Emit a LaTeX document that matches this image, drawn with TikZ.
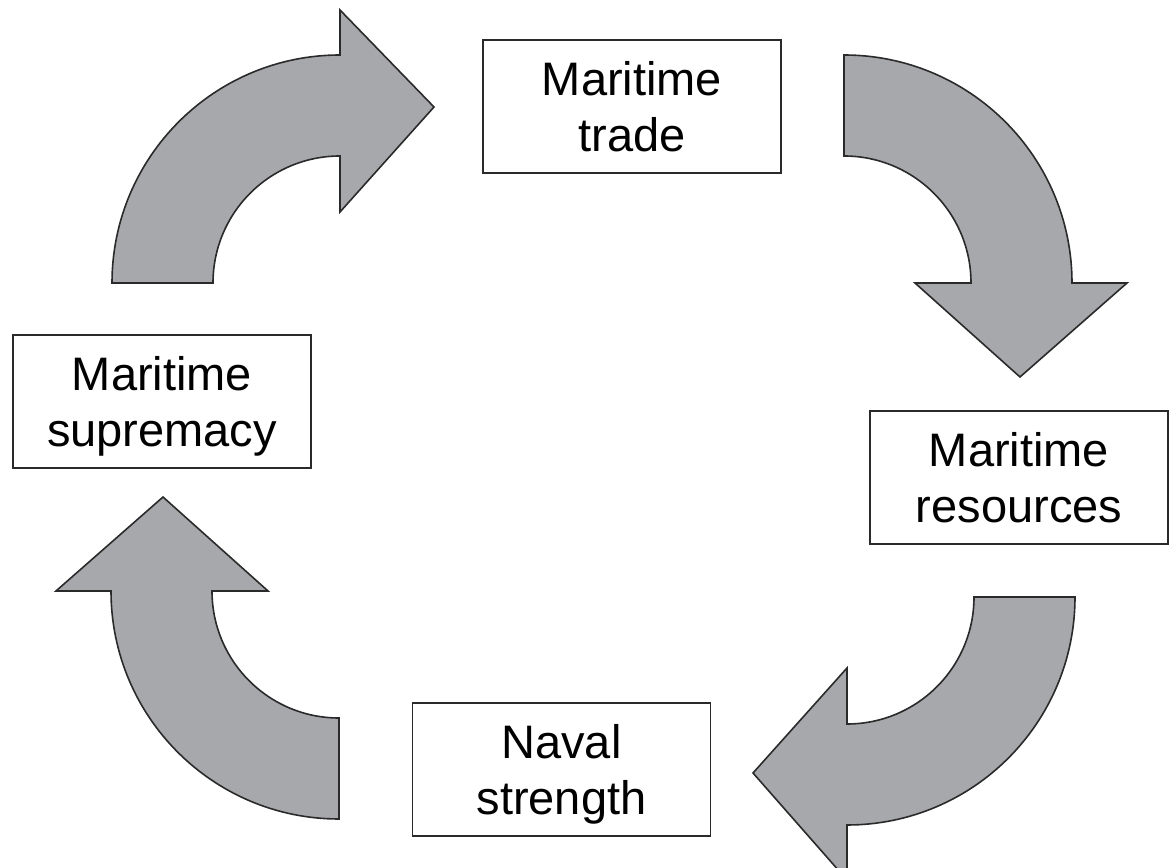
\documentclass[tikz,border=0pt]{standalone}
\usepackage{fontspec}
\setmainfont{Liberation Sans}
\usepackage{tikz}
\definecolor{arrowgray}{HTML}{A7A8AC}
\definecolor{edgegray}{HTML}{2A2A2A}

\begin{document}
\begin{tikzpicture}[x=1pt, y=1pt,
    font=\fontsize{47}{56}\selectfont,
    stage/.style={draw=edgegray, line width=1.5pt, minimum width=298pt, minimum height=133pt,
      inner sep=0pt, align=center, text depth=0pt},
    cyclearrow/.style={draw=edgegray, fill=arrowgray, line width=1.6pt, line join=miter}]
  \useasboundingbox (0,0) rectangle (1171,868);
  % curved arrows (local shape: quarter turn, head at the top)
  \begin{scope}[shift={(340,585)}]
    \draw[cyclearrow] (180:228) arc[start angle=180, end angle=90, radius=228pt] -- (90:273) -- (94,176)
      -- (90:71) -- (90:127) arc[start angle=90, end angle=180, radius=127pt] -- cycle;
  \end{scope}
  \begin{scope}[shift={(844,585)}, rotate=-90]
    \draw[cyclearrow] (180:228) arc[start angle=180, end angle=90, radius=228pt] -- (90:283) -- (94,176)
      -- (90:71) -- (90:127) arc[start angle=90, end angle=180, radius=127pt] -- cycle;
  \end{scope}
  \begin{scope}[shift={(847,271)}, rotate=-180]
    \draw[cyclearrow] (180:228) arc[start angle=180, end angle=90, radius=228pt] -- (90:283) -- (94,176)
      -- (90:71) -- (90:127) arc[start angle=90, end angle=180, radius=127pt] -- cycle;
  \end{scope}
  \begin{scope}[shift={(339,277)}, rotate=-270]
    \draw[cyclearrow] (180:228) arc[start angle=180, end angle=90, radius=228pt] -- (90:283) -- (94,176)
      -- (90:71) -- (90:127) arc[start angle=90, end angle=180, radius=127pt] -- cycle;
  \end{scope}
  % stages of the cycle
  \node[stage] (trade) at (632,761.5) {Maritime\\trade};
  \node[stage] (resources) at (1019,390.5) {Maritime\\resources};
  \node[stage] (naval) at (561.5,98.5) {Naval\\strength};
  \node[stage] (supremacy) at (162,466.5) {Maritime\\supremacy};
\end{tikzpicture}
\end{document}
